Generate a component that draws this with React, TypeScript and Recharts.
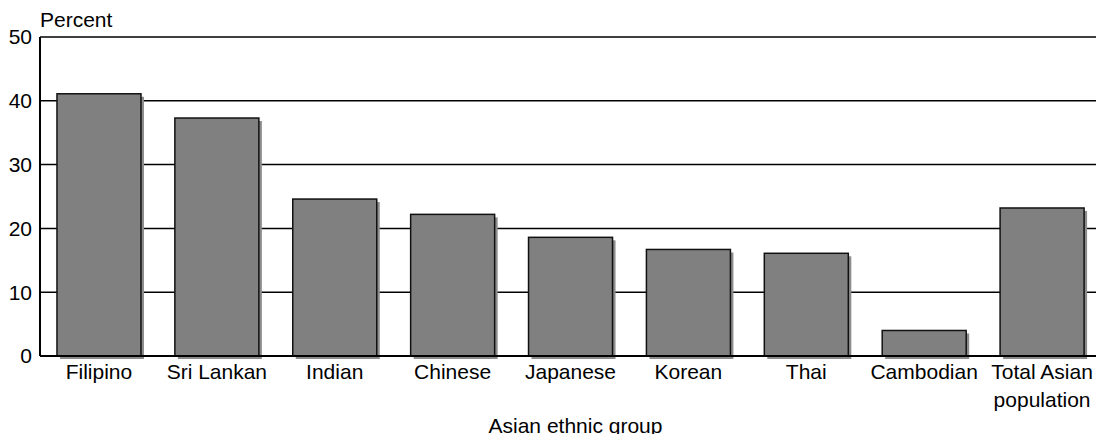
import React from 'react';
import { BarChart, Bar, XAxis, YAxis, CartesianGrid } from 'recharts';

const groups = ['Filipino', 'Sri Lankan', 'Indian', 'Chinese', 'Japanese', 'Korean', 'Thai', 'Cambodian', 'Total Asian population'];
const percents = [41.1, 37.3, 24.6, 22.2, 18.6, 16.7, 16.1, 4.0, 23.2];
const yTicks = [0, 10, 20, 30, 40, 50];

const data = groups.map((g, i) => ({ group: g, pct: percents[i] }));

const FONT = '"Liberation Sans", Arial, Helvetica, sans-serif';
const FS = 21;

// gray bar with a thin dark edge and a soft drop shadow to the lower right
const ShadowBar = (props: any) => {
  const { x, y, width, height } = props;
  if (!height) return null;
  return (
    <g>
      <rect x={x + 3} y={y + 3} width={width} height={height} fill="#8c8c8c" />
      <rect x={x} y={y} width={width} height={height} fill="#808080" stroke="#111" strokeWidth={1.5} />
    </g>
  );
};

const GroupTick = (props: any) => {
  const { x, y, payload } = props;
  const label: string = payload.value;
  const lines = label === 'Total Asian population' ? ['Total Asian', 'population'] : [label];
  return (
    <text x={x} y={y} textAnchor="middle" fill="#000" fontSize={FS} fontFamily={FONT}>
      {lines.map((l, i) => (
        <tspan key={i} x={x} dy={i === 0 ? 15 : 28}>{l}</tspan>
      ))}
    </text>
  );
};

export default function App() {
  return (
    <div style={{ position: 'absolute', left: 0, top: 0, width: 1096, height: 434, overflow: 'hidden', background: '#fff' }}>
      <div style={{ position: 'absolute', left: 40, top: 9, fontFamily: FONT, fontSize: FS, lineHeight: 1, color: '#000' }}>
        Percent
      </div>
      <BarChart
        width={1110}
        height={434}
        data={data}
        margin={{ top: 37, right: 9, left: 0, bottom: 0 }}
        barCategoryGap="14.4%"
      >
        <CartesianGrid vertical={false} stroke="#000" strokeWidth={1.5} />
        <XAxis
          dataKey="group"
          height={78}
          interval={0}
          tickLine={false}
          axisLine={{ stroke: '#000', strokeWidth: 2 }}
          tick={<GroupTick />}
          label={{ value: 'Asian ethnic group', position: 'insideBottom', offset: 1, dx: 5, fill: '#000', fontSize: FS, fontFamily: FONT }}
        />
        <YAxis
          width={40}
          domain={[0, 50]}
          ticks={yTicks}
          tickLine={false}
          axisLine={{ stroke: '#000', strokeWidth: 2 }}
          tick={{ fill: '#000', fontSize: FS, fontFamily: FONT }}
        />
        <Bar dataKey="pct" shape={<ShadowBar />} isAnimationActive={false} />
      </BarChart>
    </div>
  );
}
